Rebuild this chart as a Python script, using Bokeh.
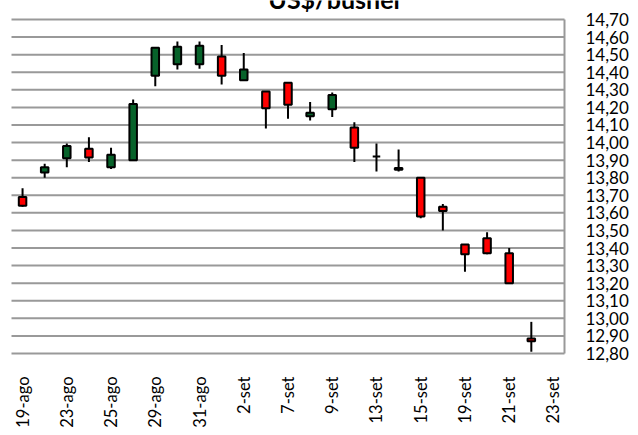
import math
from bokeh.plotting import figure
from bokeh.models import Range1d, Label, LabelSet, ColumnDataSource
from bokeh.core.properties import value
from bokeh.embed import file_html
from bokeh.resources import INLINE

# ---- data ----
dates = ["19-ago", "22-ago", "23-ago", "24-ago", "25-ago", "26-ago", "29-ago", "30-ago",
         "31-ago", "1-set", "2-set", "6-set", "7-set", "8-set", "9-set", "12-set", "13-set",
         "14-set", "15-set", "16-set", "19-set", "20-set", "21-set", "22-set", "23-set"]
opens = [13.69, 13.83, 13.91, 13.965, 13.86, 13.90, 14.38, 14.445, 14.445, 14.49, 14.355, 14.29,
         14.34, 14.15, 14.19, 14.085, 13.92, 13.855, 13.80, 13.635, 13.42, 13.455, 13.37, 12.885]
closes = [13.64, 13.86, 13.98, 13.915, 13.93, 14.22, 14.54, 14.545, 14.55, 14.38, 14.415, 14.195,
          14.215, 14.17, 14.27, 13.97, 13.92, 13.845, 13.58, 13.61, 13.365, 13.37, 13.20, 12.87]
highs = [13.74, 13.88, 13.995, 14.03, 13.97, 14.245, 14.54, 14.575, 14.575, 14.555, 14.51, 14.29,
         14.34, 14.23, 14.285, 14.115, 13.995, 13.96, 13.80, 13.65, 13.42, 13.49, 13.40, 12.98]
lows = [13.635, 13.80, 13.86, 13.89, 13.85, 13.90, 14.32, 14.415, 14.42, 14.33, 14.355, 14.08,
        14.135, 14.125, 14.145, 13.89, 13.835, 13.835, 13.57, 13.50, 13.265, 13.365, 13.20, 12.81]
y_ticks = [12.80, 12.90, 13.00, 13.10, 13.20, 13.30, 13.40, 13.50, 13.60, 13.70,
           13.80, 13.90, 14.00, 14.10, 14.20, 14.30, 14.40, 14.50, 14.60, 14.70]
y_tick_labels = ["12,80", "12,90", "13,00", "13,10", "13,20", "13,30", "13,40", "13,50",
                 "13,60", "13,70", "13,80", "13,90", "14,00", "14,10", "14,20", "14,30",
                 "14,40", "14,50", "14,60", "14,70"]
title_text = "US$/bushel"

GREEN = "#07622A"
RED = "#FF0000"
GRID = "#999999"
FONT = "Lato"

W, H = 630, 427
PL, PR, PT, PB = 11, 564, 19, 353          # plot-area edges in canvas pixels
n_cat = len(dates)
xa, xb = -0.5, n_cat - 0.5                 # category extent of the plot area
ya, yb = y_ticks[0], y_ticks[-1]
px_x = (PR - PL) / (xb - xa)
px_y = (PB - PT) / (yb - ya)

idx = list(range(len(opens)))
tops = [max(o, c) for o, c in zip(opens, closes)]
bottoms = [min(o, c) for o, c in zip(opens, closes)]
colors = [GREEN if c >= o else RED for o, c in zip(opens, closes)]

# the frame covers the whole canvas, so texts outside the plot area are not clipped
p = figure(width=W, height=H, output_backend="svg", toolbar_location=None,
           x_range=Range1d(xa - PL / px_x, xb + (W - PR) / px_x),
           y_range=Range1d(ya - (H - PB) / px_y, yb + PT / px_y),
           min_border=0, min_border_left=0, min_border_right=0,
           min_border_top=0, min_border_bottom=0)
p.outline_line_color = None
p.background_fill_color = "white"
p.border_fill_color = "white"
p.xaxis.visible = False
p.yaxis.visible = False
p.xgrid.visible = False
p.ygrid.visible = False

# horizontal gridlines and right border of the plot area
p.segment(x0=[xa] * len(y_ticks), y0=y_ticks, x1=[xb] * len(y_ticks), y1=y_ticks,
          line_color=GRID, line_width=2)
p.segment(x0=[xb], y0=[ya], x1=[xb], y1=[yb], line_color=GRID, line_width=2)

# wicks and bodies
p.segment(x0=idx, y0=lows, x1=idx, y1=highs, line_color="black", line_width=2)
p.vbar(x=idx, top=tops, bottom=bottoms, width=0.34, fill_color=colors,
       line_color="black", line_width=2)

# right value labels
ysrc = ColumnDataSource(dict(x=[xb + 21 / px_x] * len(y_ticks), y=y_ticks, t=y_tick_labels))
p.add_layout(LabelSet(x="x", y="y", text="t", source=ysrc, text_align="left",
                      text_baseline="middle", text_font=value(FONT),
                      text_font_size=value("17px"), text_color="black"))

# bottom date labels (every second category), vertical
x_tick_pos = list(range(0, n_cat, 2))
xsrc = ColumnDataSource(dict(x=x_tick_pos, y=[ya - 23 / px_y] * len(x_tick_pos),
                             t=[dates[i] for i in x_tick_pos]))
p.add_layout(LabelSet(x="x", y="y", text="t", source=xsrc, angle=math.pi / 2,
                      text_align="right", text_baseline="middle", text_font=value(FONT),
                      text_font_size=value("16.5px"), text_color="black"))

# title (partly cut off at the top, as in the reference)
p.add_layout(Label(x=14.08, y=yb + (PT + 1.5) / px_y, text=title_text, text_align="center",
                   text_baseline="alphabetic", text_font=FONT, text_font_style="bold",
                   text_font_size="25px", text_color="black"))

open("out.html", "w").write(file_html(p, INLINE))
